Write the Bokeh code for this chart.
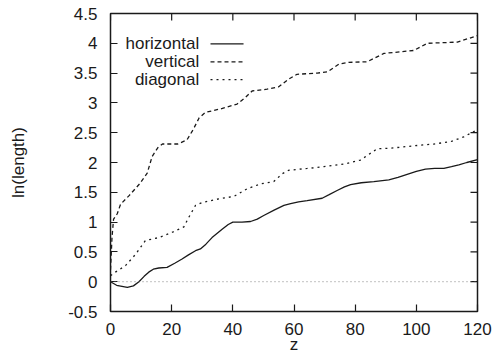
import math
from bokeh.plotting import figure
from bokeh.models import FixedTicker, Span, Label, Range1d
from bokeh.embed import file_html
from bokeh.resources import INLINE

# ---- data ----
z_horizontal = [0, 2, 5.5, 7.5, 9.3, 11, 12.5, 14, 15.8, 18.5, 21, 23.4, 25.5, 27.8, 29.4,
                31.2, 33.2, 36.5, 38.5, 40, 43, 45.8, 48, 50.1, 53.5, 56.7, 58.9, 61.5,
                64.3, 69.2, 71.5, 74.1, 76.5, 78.5, 82, 86.1, 91, 94, 97, 100, 103,
                106, 109, 111.5, 113.9, 116.5, 120]
ln_horizontal = [0, -0.06, -0.095, -0.07, 0, 0.09, 0.16, 0.21, 0.23, 0.24, 0.31, 0.38,
                 0.45, 0.52, 0.55, 0.63, 0.74, 0.88, 0.96, 1.0, 1.0, 1.01, 1.05, 1.11,
                 1.2, 1.28, 1.31, 1.34, 1.36, 1.40, 1.46, 1.53, 1.59, 1.63, 1.66, 1.68,
                 1.71, 1.75, 1.80, 1.85, 1.89, 1.90, 1.90, 1.93, 1.96, 2.0, 2.05]

z_vertical = [0, 0.5, 1, 2.2, 3.3, 6, 9.5, 12, 13.6, 15.5, 17, 22, 25, 27, 29, 31, 36,
              41.4, 44.1, 46.3, 51.2, 55, 58.3, 61, 67.6, 70.9, 74.7, 77.9, 83.9, 89.4,
              99.2, 103.6, 113.4, 118.8, 120]
ln_vertical = [0.2, 0.75, 1.05, 1.14, 1.30, 1.44, 1.64, 1.82, 2.1, 2.25, 2.31, 2.31,
               2.38, 2.55, 2.75, 2.84, 2.90, 2.98, 3.09, 3.20, 3.23, 3.27, 3.40, 3.48,
               3.50, 3.52, 3.65, 3.68, 3.69, 3.83, 3.88, 4.0, 4.02, 4.11, 4.13]

z_diagonal = [0, 1.6, 4.9, 8.2, 11.4, 15.8, 20.2, 24, 25.6, 27.8, 30, 35.4, 40.3, 44.7,
              49, 53.4, 56.1, 58.3, 64.3, 69.8, 77, 81.7, 87.2, 91.6, 99.2, 105.7,
              111.2, 115.5, 118.8, 120]
ln_diagonal = [0.1, 0.16, 0.27, 0.46, 0.69, 0.74, 0.83, 0.92, 1.08, 1.28, 1.33, 1.39,
               1.43, 1.56, 1.64, 1.68, 1.81, 1.87, 1.90, 1.93, 1.98, 2.04, 2.23, 2.24,
               2.28, 2.31, 2.35, 2.43, 2.52, 2.55]

series_names = ["horizontal", "vertical", "diagonal"]

x_ticks = [0, 20, 40, 60, 80, 100, 120]
x_tick_labels = ["0", "20", "40", "60", "80", "100", "120"]
y_ticks = [-0.5, 0, 0.5, 1, 1.5, 2, 2.5, 3, 3.5, 4, 4.5]
y_tick_labels = ["-0.5", "0", "0.5", "1", "1.5", "2", "2.5", "3", "3.5", "4", "4.5"]

FONT = "Liberation Sans"
FS = "17px"
INK = "#1a1a1a"
X0, X1, Y0, Y1 = 0, 120, -0.5, 4.5

p = figure(width=503, height=356, output_backend="svg", toolbar_location=None,
           x_range=Range1d(X0, X1), y_range=Range1d(Y0, Y1),
           min_border_left=110, min_border_right=26, min_border_top=13,
           min_border_bottom=45)
p.background_fill_color = "white"
p.border_fill_color = "white"
p.grid.visible = False
p.outline_line_color = INK
p.outline_line_width = 1.5

def style_axis(ax, ticks, labels):
    ax.ticker = FixedTicker(ticks=ticks)
    ax.major_label_overrides = {t: l for t, l in zip(ticks, labels)}
    ax.axis_line_color = None
    ax.major_tick_in = 7
    ax.major_tick_out = 0
    ax.major_tick_line_color = INK
    ax.major_tick_line_width = 1.2
    ax.minor_tick_line_color = None
    ax.major_label_text_font = FONT
    ax.major_label_text_font_size = FS
    ax.major_label_text_color = INK
    ax.axis_label_text_font = FONT
    ax.axis_label_text_font_size = FS
    ax.axis_label_text_font_style = "normal"
    ax.axis_label_text_color = INK

style_axis(p.xaxis[0], x_ticks, x_tick_labels)
style_axis(p.yaxis[0], y_ticks, y_tick_labels)
p.xaxis[0].major_label_standoff = 11
p.yaxis[0].major_label_standoff = 13
p.xaxis[0].axis_label = "z"
p.yaxis[0].axis_label = "ln(length)"
p.xaxis[0].axis_label_standoff = -3
p.yaxis[0].axis_label_standoff = 37

# mirrored inward ticks on the top and right edges
p.ray(x=x_ticks, y=[Y1] * len(x_ticks), length=7, length_units="screen",
      angle=-math.pi / 2, line_color=INK, line_width=1.2)
p.ray(x=[X1] * len(y_ticks), y=y_ticks, length=7, length_units="screen",
      angle=math.pi, line_color=INK, line_width=1.2)

# zero axis
p.add_layout(Span(location=0, dimension="width", line_color="#666666",
                  line_width=0.8, line_dash="1 3"))

styles = [dict(line_dash="solid", line_width=1.3),
          dict(line_dash="4 3", line_width=1.3),
          dict(line_dash="2 4", line_width=1.3)]
data = [(z_horizontal, ln_horizontal), (z_vertical, ln_vertical), (z_diagonal, ln_diagonal)]

for (zs, vs), st in zip(data, styles):
    p.line(zs, vs, line_color=INK, **st)

# gnuplot-style key: label on the left, sample on the right
key_rows = [3.99, 3.69, 3.39]
for name, yk, st in zip(series_names, key_rows, styles):
    p.add_layout(Label(x=29.0, y=yk, text=name, text_align="right",
                       text_baseline="middle", text_font=FONT, text_font_size=FS,
                       text_color=INK))
    p.line([32.7, 43.5], [yk, yk], line_color=INK, **st)

open("out.html", "w").write(file_html(p, INLINE))
